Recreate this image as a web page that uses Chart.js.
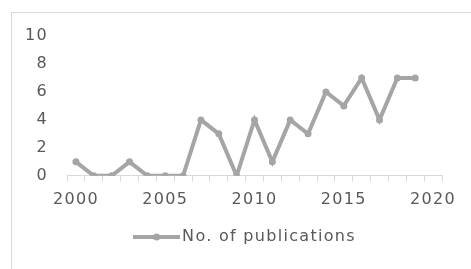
<!DOCTYPE html>
<html>
<head>
<meta charset="utf-8">
<script src="https://cdn.jsdelivr.net/npm/chart.js@4"></script>
<style>
  html, body { margin: 0; padding: 0; background: #fff; overflow: hidden; }
  #wrap { position: relative; width: 471px; height: 269px; }
  #frame { position: absolute; left: 11px; top: 12px; width: 490px; height: 290px; border: 1px solid #d9d9d9; }
  canvas { position: absolute; left: 0; top: 0; }
  #warm { position: absolute; left: -999px; top: 0; font-family: 'DejaVu Sans'; font-size: 16px; }
</style>
</head>
<body>
<div id="wrap">
  <div id="frame"></div>
  <canvas id="chart" width="471" height="269"></canvas>
</div>
<span id="warm">No. of publications 2010</span>
<script>
// years on the category axis (2020 has no value, only the closing slot)
const years = ['2000', '2001', '2002', '2003', '2004', '2005', '2006', '2007', '2008', '2009',
               '2010', '2011', '2012', '2013', '2014', '2015', '2016', '2017', '2018', '2019', '2020'];
const publications = [1, 0, 0, 1, 0, 0, 0, 4, 3, 0, 4, 1, 4, 3, 6, 5, 7, 4, 7, 7];
const yTicks = [0, 2, 4, 6, 8, 10];
const seriesName = 'No. of publications';

const GREY = '#a5a5a5';
const TEXT = '#595959';
const AXIS = '#d9d9d9';
const FONT = { family: "'DejaVu Sans'", size: 16 };

// legend marker : short line with a dot in the middle
function legendMarker() {
  const c = document.createElement('canvas');
  c.width = 47; c.height = 10;
  const g = c.getContext('2d');
  g.strokeStyle = GREY;
  g.lineWidth = 4;
  g.beginPath(); g.moveTo(0, 5); g.lineTo(47, 5); g.stroke();
  g.fillStyle = GREY;
  g.beginPath(); g.arc(23.5, 5, 3.5, 0, Math.PI * 2); g.fill();
  return c;
}

// the original text is set a bit wider than DejaVu ; legend sits right of centre
const tweaks = {
  id: 'tweaks',
  beforeUpdate: c => { c.ctx.letterSpacing = '1.3px'; },
  beforeLayout: c => { c.ctx.letterSpacing = '1.3px'; },
  afterLayout: c => { c.legend.left += 21; c.legend.right += 21; },
  beforeDraw: c => { c.ctx.letterSpacing = '1.3px'; }
};

function draw() {
  new Chart(document.getElementById('chart'), {
    type: 'line',
    data: {
      labels: years,
      datasets: [{
        label: seriesName,
        data: publications,
        borderColor: GREY,
        backgroundColor: GREY,
        borderWidth: 4,
        pointRadius: 3.5,
        pointBackgroundColor: GREY,
        pointBorderWidth: 0,
        tension: 0
      }]
    },
    plugins: [tweaks],
    options: {
      responsive: false,
      animation: false,
      layout: { padding: { left: 11, top: 36, right: 29, bottom: 14 } },
      plugins: {
        tooltip: { enabled: false },
        legend: {
          position: 'bottom',
          labels: {
            color: TEXT,
            font: FONT,
            usePointStyle: true,
            pointStyle: legendMarker(),
            pointStyleWidth: 35,
            padding: 12
          }
        }
      },
      scales: {
        x: {
          type: 'category',
          offset: true,
          grid: { offset: true, drawOnChartArea: false, drawTicks: true, tickLength: 6, color: AXIS },
          border: { display: true, color: AXIS, width: 1 },
          ticks: {
            color: TEXT,
            font: FONT,
            autoSkip: false,
            maxRotation: 0,
            padding: 8,
            callback: function (v) {
              const y = years[v];
              return Number(y) % 5 === 0 ? y : '';
            }
          }
        },
        y: {
          min: 0,
          max: 10,
          afterBuildTicks: s => { s.ticks = yTicks.map(v => ({ value: v })); },
          afterFit: s => { s.width = 56; },
          grid: { display: false, drawTicks: false },
          border: { display: false },
          ticks: { color: TEXT, font: FONT, padding: 19 }
        }
      }
    }
  });
}

document.fonts.load("16px 'DejaVu Sans'").then(draw, draw);
</script>
</body>
</html>
